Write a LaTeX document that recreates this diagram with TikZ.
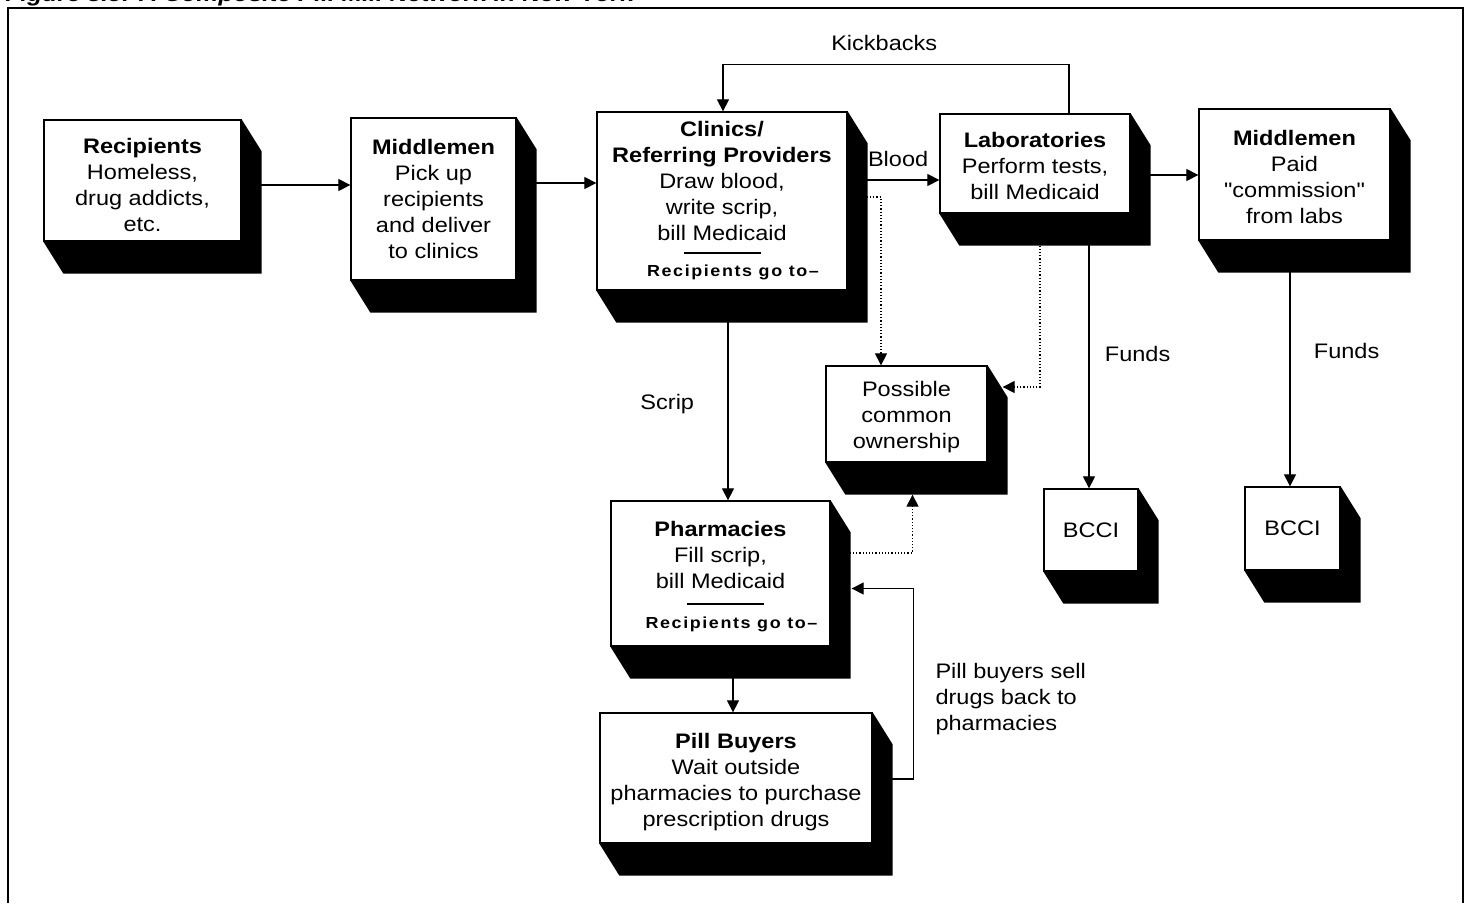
\documentclass[tikz,border=0pt]{standalone}
\usepackage{fontspec}
\setmainfont{Liberation Sans}[FakeStretch=1.12]
\newfontfamily\gofont{Liberation Sans}[FakeStretch=1.12,LetterSpace=10]
\newfontfamily\plainq{Liberation Sans}[FakeStretch=1.12]
\usetikzlibrary{calc,backgrounds,arrows.meta}

\tikzset{
  box/.style={draw, fill=white, line width=1.3pt, align=center, inner sep=0pt,
    font=\fontsize{21}{26}\selectfont},
  lbl/.style={font=\fontsize{21}{26}\selectfont, align=center},
  arr/.style={-{Triangle[length=12pt,width=12pt]}, line width=1.2pt},
  dots/.style={dotted, line width=1.5pt},
}
\newcommand{\up}[1][21pt]{\rule{0pt}{#1}}
\newcommand{\goline}{\hspace*{22pt}{\gofont\bfseries\fontsize{16}{20}\selectfont Recipients go to–}}
\newcommand{\qq}{{\plainq"}}

\begin{document}
\begin{tikzpicture}[x=1pt,y=-1pt]
\useasboundingbox (0,0) rectangle (1470,903);

% title, cut off at the top
\node[font=\bfseries\itshape\fontsize{22}{26}\selectfont, anchor=base west] (title) at (2,1) {Figure 8.5: A Composite Pill Mill Network in New York};
\draw[line width=2pt] (8,903) -- (8,8) -- (1463,8) -- (1463,903);

% boxes
\node[box, minimum width=197pt, minimum height=121pt] (rec) at (142.5,180.5) {\up[25pt]\textbf{Recipients}\\Homeless,\\drug addicts,\\etc.};
\node[box, minimum width=165pt, minimum height=162pt] (mid1) at (433.5,199) {\textbf{Middlemen}\\Pick up\\recipients\\and deliver\\to clinics};
\node[box, minimum width=250pt, minimum height=178pt] (clin) at (722,201) {\textbf{Clinics/}\\\textbf{Referring Providers}\\Draw blood,\\write scrip,\\bill Medicaid\\[10pt]\goline};
\node[box, minimum width=190pt, minimum height=99pt] (lab) at (1035,163.5) {\up\textbf{Laboratories}\\Perform tests,\\bill Medicaid};
\node[box, minimum width=191pt, minimum height=131pt] (mid2) at (1294.5,174.5) {\up\textbf{Middlemen}\\Paid\\\qq commission\qq\\from labs};
\node[box, minimum width=161pt, minimum height=96pt] (poss) at (906.5,414) {\up Possible\\common\\ownership};
\node[box, minimum width=94pt, minimum height=82pt] (bccia) at (1091,530) {BCCI};
\node[box, minimum width=95pt, minimum height=83pt] (bccib) at (1292.5,528.5) {BCCI};
\node[box, minimum width=219pt, minimum height=145pt] (pharm) at (720.5,573.5) {\up\textbf{Pharmacies}\\Fill scrip,\\bill Medicaid\\[14pt]\goline};
\node[box, minimum width=272pt, minimum height=130pt] (pill) at (736,778) {\up[23pt]\textbf{Pill Buyers}\\Wait outside\\pharmacies to purchase\\prescription drugs};

% short rules over "Recipients go to"
\draw[line width=1.3pt] ($(clin.center)+(-38,52)$) -- ++(77,0);
\draw[line width=1.3pt] ($(pharm.center)+(-34,30.5)$) -- ++(77,0);

% shadows
\begin{scope}[on background layer]
\fill[white] (0,0) rectangle (1470,903);
\foreach \n in {rec,mid1,clin,lab,mid2,poss,bccia,bccib,pharm,pill}
  \fill (\n.north east) -- ++(20,32) -- ($(\n.south east)+(20,32)$) -- ($(\n.south west)+(20,32)$) -- (\n.south west) -- cycle;
\end{scope}

% connectors
\draw[arr] (rec.east |- 0,185) -- (mid1.west |- 0,185);
\draw[arr] (mid1.east |- 0,183) -- (clin.west |- 0,183);
\draw[arr] (clin.east |- 0,180) -- node[lbl, above=9pt, pos=0.55] (blood) {Blood} (lab.west |- 0,180);
\draw[arr] (lab.east |- 0,175) -- (mid2.west |- 0,175);
\draw[arr] ([xshift=34pt]lab.north) -- ++(0,-49) -| node[lbl, above=10pt, pos=0.267] (kick) {Kickbacks} ([xshift=1pt]clin.north);
\draw[arr] (clin.south -| 728,0) -- node[lbl, left=30pt, pos=0.54] (scrip) {Scrip} (pharm.north -| 728,0);
\draw[dots, arr] (clin.east |- 0,197) -| (poss.north -| 881,0);
\draw[dots, arr] (lab.south -| 1040,0) |- ($(poss.east)+(15,-27)$);
\draw[dots, arr] (pharm.east |- 0,553) -| ($(poss.south)+(6,32)$);
\draw[arr] (lab.south -| 1089,0) -- node[lbl, right=12pt, pos=0.51] (funda) {Funds} (bccia.north -| 1089,0);
\draw[arr] (mid2.south -| 1290,0) -- node[lbl, right=20pt, pos=0.45] (fundb) {Funds} (bccib.north -| 1290,0);
\draw[arr] (pharm.south -| 733,0) -- (pill.north -| 733,0);
\draw[arr] (pill.east |- 0,779) -- ++(41,0) |- ($(pharm.east)+(21,15)$);
\node[lbl, align=left, anchor=west] (sell) at (932,699) {Pill buyers sell\\drugs back to\\pharmacies};
\end{tikzpicture}
\end{document}
